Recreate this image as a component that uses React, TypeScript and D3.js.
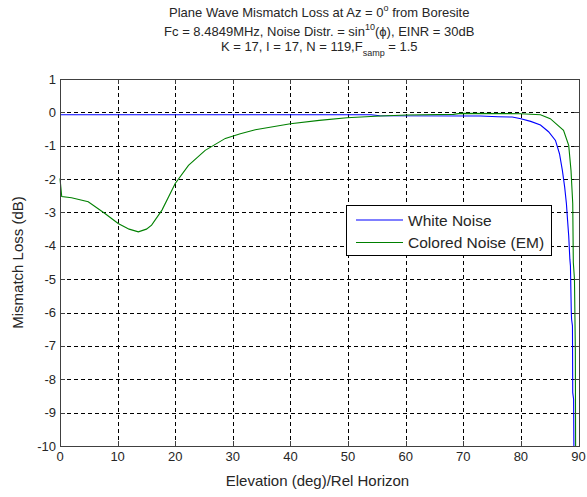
import React from "react";
import * as d3 from "d3";

const W = 587;
const H = 497;

const xTicks = [0, 10, 20, 30, 40, 50, 60, 70, 80, 90];
const yTicks = [1, 0, -1, -2, -3, -4, -5, -6, -7, -8, -9, -10];

const whiteX = [0, 54, 55.5, 73, 76, 78.5, 80, 81.7, 83.4, 84.8, 86, 86.7, 87.2, 87.6, 87.9, 88.1, 88.3, 88.5, 88.6, 88.75, 88.8, 88.95, 89.0, 89.15, 89.2];
const whiteY = [-0.07, -0.07, -0.1, -0.11, -0.13, -0.14, -0.19, -0.27, -0.38, -0.58, -0.84, -1.24, -1.74, -2.24, -2.73, -3.23, -3.7, -4.4, -4.6, -6.0, -6.2, -6.4, -8.4, -8.6, -10];

const colorX = [0, 0.3, 2, 4.9, 7.8, 10.1, 12, 13.6, 15, 15.9, 17.7, 20, 22.3, 25.2, 28.7, 31.3, 33.9, 40, 45, 49.8, 55.6, 60.2, 68.3, 69.5, 80, 83.4, 85.1, 87.4, 88.3, 88.7, 89.0, 89.1, 89.3, 89.45, 89.5];
const colorY = [-1.98, -2.52, -2.56, -2.68, -3.03, -3.33, -3.5, -3.58, -3.5, -3.38, -2.93, -2.13, -1.59, -1.14, -0.78, -0.64, -0.52, -0.34, -0.24, -0.16, -0.11, -0.08, -0.06, -0.03, -0.04, -0.07, -0.19, -0.54, -0.99, -1.74, -2.73, -4.5, -5.0, -7.1, -10];

const seriesNames = ["White Noise", "Colored Noise (EM)"];
const seriesColors = ["#0000ff", "#008000"];

const FONT = "'Liberation Sans', Arial, sans-serif";

export default function App() {
  const left = 60, right = 578.5, top = 79, bottom = 446;
  const x = d3.scaleLinear().domain([0, 90]).range([left, right]);
  const y = d3.scaleLinear().domain([-10, 1]).range([bottom, top]);
  const line = d3.line<[number, number]>().x((d) => x(d[0])).y((d) => y(d[1]));
  const white = whiteX.map((v, i) => [v, whiteY[i]] as [number, number]);
  const colored = colorX.map((v, i) => [v, colorY[i]] as [number, number]);
  const cx = (left + right) / 2;
  const txt = "#262626";
  const axisCol = "#404040";

  return (
    <svg width={W} height={H} style={{ position: "absolute", left: 0, top: 0, background: "#fff" }} fontFamily={FONT}>
      <rect x={0} y={0} width={W} height={H} fill="#fff" />
      {/* grid */}
      <g stroke="#000" strokeWidth={1} strokeDasharray="4,3" shapeRendering="crispEdges">
        {xTicks.slice(1, -1).map((t) => (
          <line key={"gx" + t} x1={Math.round(x(t)) + 0.5} x2={Math.round(x(t)) + 0.5} y1={top} y2={bottom} />
        ))}
        {yTicks.slice(1, -1).map((t) => (
          <line key={"gy" + t} y1={Math.round(y(t)) + 0.5} y2={Math.round(y(t)) + 0.5} x1={left} x2={right} />
        ))}
      </g>
      {/* data */}
      <g fill="none" strokeWidth={1.1}>
        <path d={line(white) || ""} stroke={seriesColors[0]} />
        <path d={line(colored) || ""} stroke={seriesColors[1]} />
      </g>
      {/* box & ticks */}
      <g stroke={axisCol} strokeWidth={1} shapeRendering="crispEdges">
        <rect x={left + 0.5} y={top + 0.5} width={right - left} height={bottom - top} fill="none" />
        {xTicks.map((t) => (
          <g key={"tx" + t}>
            <line x1={Math.round(x(t)) + 0.5} x2={Math.round(x(t)) + 0.5} y1={bottom} y2={bottom - 5} />
            <line x1={Math.round(x(t)) + 0.5} x2={Math.round(x(t)) + 0.5} y1={top} y2={top + 5} />
          </g>
        ))}
        {yTicks.map((t) => (
          <g key={"ty" + t}>
            <line y1={Math.round(y(t)) + 0.5} y2={Math.round(y(t)) + 0.5} x1={left} x2={left + 5} />
            <line y1={Math.round(y(t)) + 0.5} y2={Math.round(y(t)) + 0.5} x1={right} x2={right - 5} />
          </g>
        ))}
      </g>
      {/* tick labels */}
      <g fontSize={13} fill={txt}>
        {xTicks.map((t) => (
          <text key={"lx" + t} x={x(t)} y={bottom + 15} textAnchor="middle">{t}</text>
        ))}
        {yTicks.map((t) => (
          <text key={"ly" + t} x={left - 4} y={y(t) + 4.5} textAnchor="end">{t}</text>
        ))}
      </g>
      {/* axis labels */}
      <text x={317.5} y={486} textAnchor="middle" fontSize={15} fill={txt}>Elevation (deg)/Rel Horizon</text>
      <text transform={`translate(23,${(top + bottom) / 2}) rotate(-90)`} textAnchor="middle" fontSize={15} fill={txt}>Mismatch Loss (dB)</text>
      {/* title */}
      <g fontSize={13} fill={txt} textAnchor="middle">
        <text x={cx} y={17}>
          Plane Wave Mismatch Loss at Az = 0<tspan fontSize={9} dy={-6}>o</tspan><tspan dy={6}> from Boresite</tspan>
        </text>
        <text x={cx} y={36}>
          Fc = 8.4849MHz, Noise Distr. = sin<tspan fontSize={9} dy={-6}>10</tspan><tspan dy={6}>(ϕ), EINR = 30dB</tspan>
        </text>
        <text x={cx} y={51}>
          K = 17, I = 17, N = 119,F<tspan fontSize={9} dy={5}>samp</tspan><tspan dy={-5}> = 1.5</tspan>
        </text>
      </g>
      {/* legend */}
      <g>
        <rect x={346.5} y={205.5} width={205} height={50} fill="#fff" stroke="#000" strokeWidth={1} shapeRendering="crispEdges" />
        {seriesNames.map((n, i) => (
          <g key={n}>
            <line x1={356} x2={403} y1={220 + i * 22.5} y2={220 + i * 22.5} stroke={seriesColors[i]} strokeWidth={1.1} />
            <text x={408} y={225.5 + i * 22.5} fontSize={15.5} fill={txt}>{n}</text>
          </g>
        ))}
      </g>
    </svg>
  );
}
